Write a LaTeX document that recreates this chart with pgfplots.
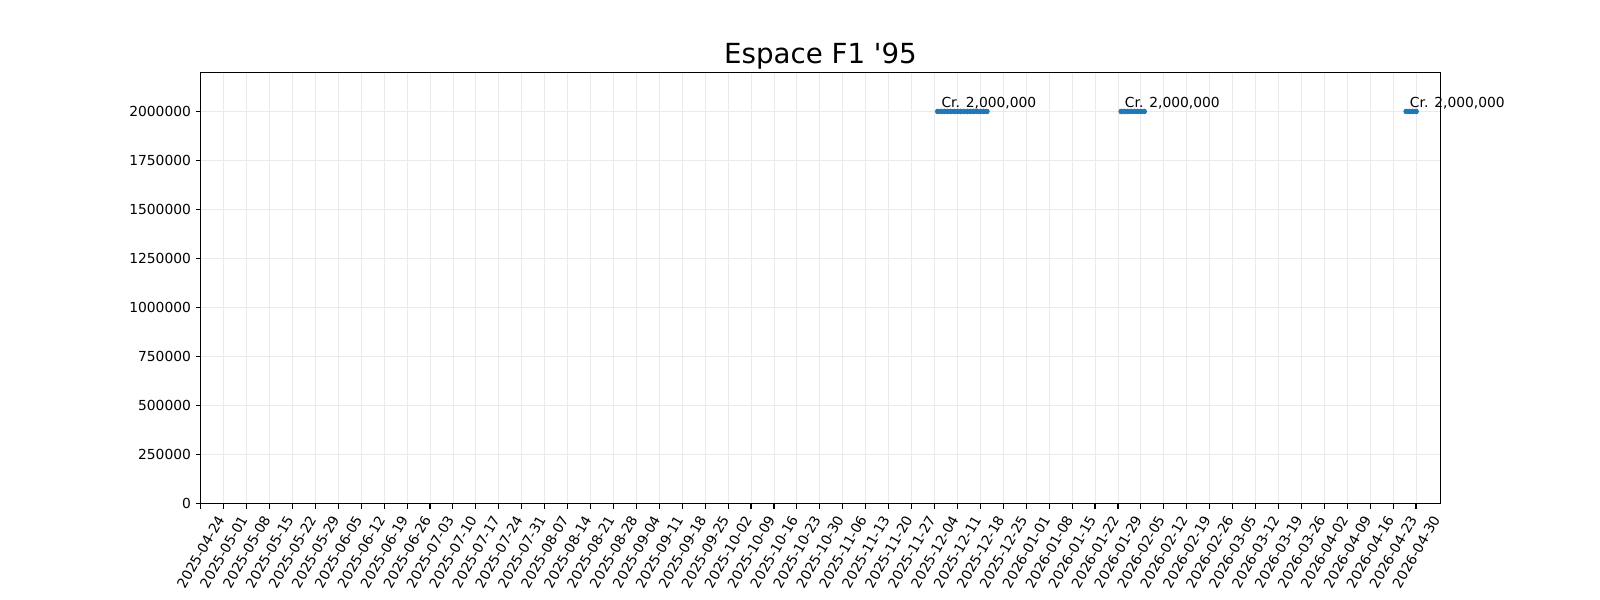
\documentclass[border=0pt]{standalone}
\usepackage{fontspec}
\setmainfont{DejaVu Sans}
\usepackage{pgfplots}
\pgfplotsset{compat=1.18}
\definecolor{mplblue}{RGB}{31,119,180}
\definecolor{gridgray}{RGB}{234,234,234}
\tikzset{pt/.style={mplblue, line width=1.6bp, mark=*, mark size=1.8bp,
    mark options={solid, fill=mplblue, draw=mplblue, line width=0.4bp}}}

\begin{document}
\begin{tikzpicture}
% full figure area, 1600x600 px at 0.72bp per px
\path (-144.5bp,-69.1bp) rectangle (1007.5bp,362.8bp);
\begin{axis}[
  scale only axis,
  width=892.5bp, height=310.8bp,
  xmin=0, xmax=378.4,
  ymin=0, ymax=2200000,
  clip=false,
  axis line style={line width=0.8bp},
  tick align=outside,
  xtick pos=left, ytick pos=left,
  major tick length=3.5bp,
  tick style={line width=0.8bp, black},
  grid=major,
  grid style={line width=0.6bp, gridgray},
  scaled y ticks=false,
  /pgf/number format/.cd, fixed, 1000 sep={}, assume math mode=true,
  /pgfplots/.cd,
  ytick={0,250000,500000,750000,1000000,1250000,1500000,1750000,2000000},
  xtick={0,7,...,371},
  xticklabels={2025-04-24,2025-05-01,2025-05-08,2025-05-15,2025-05-22,2025-05-29,
    2025-06-05,2025-06-12,2025-06-19,2025-06-26,2025-07-03,2025-07-10,2025-07-17,
    2025-07-24,2025-07-31,2025-08-07,2025-08-14,2025-08-21,2025-08-28,2025-09-04,
    2025-09-11,2025-09-18,2025-09-25,2025-10-02,2025-10-09,2025-10-16,2025-10-23,
    2025-10-30,2025-11-06,2025-11-13,2025-11-20,2025-11-27,2025-12-04,2025-12-11,
    2025-12-18,2025-12-25,2026-01-01,2026-01-08,2026-01-15,2026-01-22,2026-01-29,
    2026-02-05,2026-02-12,2026-02-19,2026-02-26,2026-03-05,2026-03-12,2026-03-19,
    2026-03-26,2026-04-02,2026-04-09,2026-04-16,2026-04-23,2026-04-30},
  xticklabel style={yshift=-31bp, rotate=60, anchor=center, font=\fontsize{10}{12}\selectfont},
  yticklabel style={font=\fontsize{10}{12}\selectfont},
  title={Espace F1 \textquotesingle95},
  title style={at={(0.5,1)}, anchor=base, yshift=0bp, font=\fontsize{20}{24}\selectfont},
]
% days since 2025-04-24
\addplot[pt] coordinates {
  (225,2000000)(226,2000000)(227,2000000)(228,2000000)(229,2000000)(230,2000000)
  (231,2000000)(232,2000000)(233,2000000)(234,2000000)(235,2000000)(236,2000000)
  (237,2000000)(238,2000000)(239,2000000)(240,2000000)
};
\addplot[pt] coordinates {
  (281,2000000)(282,2000000)(283,2000000)(284,2000000)(285,2000000)(286,2000000)
  (287,2000000)(288,2000000)
};
\addplot[pt] coordinates {
  (368,2000000)(369,2000000)(370,2000000)(371,2000000)
};
\node[anchor=base west, xshift=2.5bp, yshift=3.2bp, inner sep=0pt, font=\fontsize{10}{12}\selectfont]
  at (axis cs:225,2000000) {Cr. 2,000,000};
\node[anchor=base west, xshift=2.5bp, yshift=3.2bp, inner sep=0pt, font=\fontsize{10}{12}\selectfont]
  at (axis cs:281,2000000) {Cr. 2,000,000};
\node[anchor=base west, xshift=2.5bp, yshift=3.2bp, inner sep=0pt, font=\fontsize{10}{12}\selectfont]
  at (axis cs:368,2000000) {Cr. 2,000,000};
\end{axis}
\end{tikzpicture}
\end{document}
